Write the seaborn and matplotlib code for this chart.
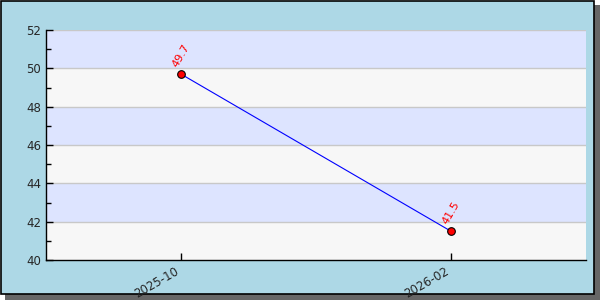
import matplotlib
matplotlib.use("Agg")
import matplotlib.pyplot as plt
import seaborn as sns
import pandas as pd
from matplotlib.patches import Rectangle

categories = ["2025-10", "2026-02"]
values = [49.7, 41.5]
value_labels = ["49.7", "41.5"]
y_ticks = [40, 42, 44, 46, 48, 50, 52]

sns.set_style("white")
plt.rcParams['font.family'] = ['DejaVu Sans']

fig = plt.figure(figsize=(6, 3), dpi=100)
fig.patch.set_facecolor("white")
# shadow and box
fig.patches.append(Rectangle((5/600, 0), 595/600, 295/300, transform=fig.transFigure,
                             facecolor="#666666", edgecolor="none", zorder=-2))
fig.patches.append(Rectangle((0.5/600, 6.5/300), 593/600, 293/300, transform=fig.transFigure,
                             facecolor="#ADD8E6", edgecolor="black", linewidth=1.2, zorder=-1))

ax = fig.add_axes([46/600, 40/300, 540/600, 230/300])
ax.set_facecolor("#F7F7F7")

df = pd.DataFrame({"x": range(len(categories)), "y": values})

# alternating bands
for i in range(len(y_ticks) - 1):
    if i % 2 == 1:
        ax.axhspan(y_ticks[i], y_ticks[i + 1], color="#DDE4FF", zorder=0, linewidth=0)
for t in y_ticks[1:]:
    ax.axhline(t, color="#C8C8C8", linewidth=1, zorder=0.5)

sns.lineplot(data=df, x="x", y="y", ax=ax, color="blue", linewidth=0.8,
             marker="o", markersize=5.5, markerfacecolor="red", markeredgecolor="black",
             markeredgewidth=0.8, zorder=3)

for xi, yi, lab in zip(df["x"], df["y"], value_labels):
    ax.annotate(lab, (xi, yi), xytext=(0, 4), textcoords="offset points",
                rotation=60, color="red", fontsize=8, ha="center", va="bottom",
                rotation_mode="anchor" if False else "default")

ax.set_xlim(-0.5, 1.5)
ax.set_ylim(40, 52)
ax.set_xticks(range(len(categories)))
ax.set_xticklabels(categories, rotation=30, ha="right", fontsize=8.5)
ax.set_yticks(y_ticks)
ax.set_yticklabels([str(t) for t in y_ticks], fontsize=8.5)
ax.set_yticks([41, 43, 45, 47, 49, 51], minor=True)
ax.tick_params(axis="both", which="major", direction="in", length=5, width=1, color="black",
               left=True, bottom=True)
ax.tick_params(axis="y", which="minor", direction="in", length=3.5, width=1, color="black", left=True)
ax.set_xlabel("")
ax.set_ylabel("")
for s in ["top", "right"]:
    ax.spines[s].set_visible(False)
for s in ["left", "bottom"]:
    ax.spines[s].set_color("black")
    ax.spines[s].set_linewidth(1)

fig.savefig("out.png", dpi=100)
